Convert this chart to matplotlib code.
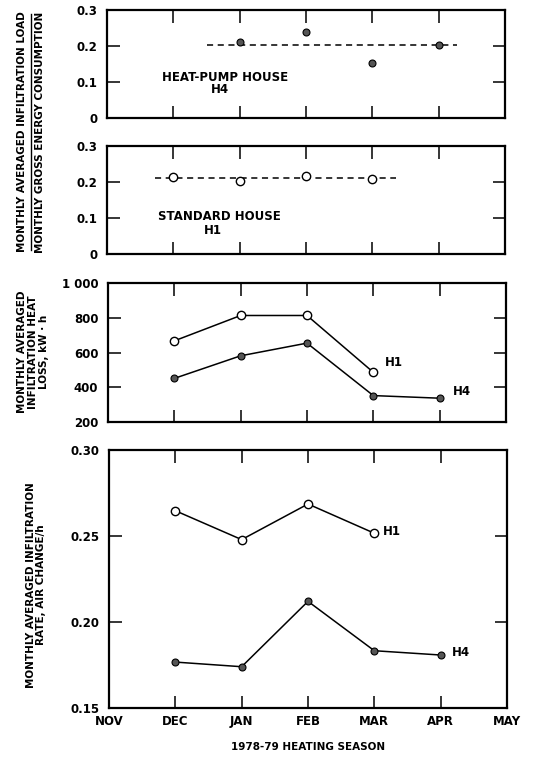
"""Monthly infiltration plots for the H1 / H4 test houses, 1978-79 heating season."""

import matplotlib
matplotlib.use("Agg")
import matplotlib.pyplot as plt
from matplotlib.lines import Line2D

plt.rcParams['font.family'] = ['DejaVu Sans']
plt.rcParams['font.weight'] = 'bold'
plt.rcParams['axes.labelweight'] = 'bold'

# x positions: NOV=0 ... MAY=6
month_labels = ["NOV", "DEC", "JAN", "FEB", "MAR", "APR", "MAY"]
month_pos = [0, 1, 2, 3, 4, 5, 6]

# panel 1: load ratio, heat-pump house H4 (JAN..APR)
ratio_h4_x = [2, 3, 4, 5]
ratio_h4 = [0.211, 0.238, 0.154, 0.203]
ratio_h4_mean = 0.204
ratio_h4_span = [1.5, 5.27]

# panel 2: load ratio, standard house H1 (DEC..MAR)
ratio_h1_x = [1, 2, 3, 4]
ratio_h1 = [0.214, 0.202, 0.216, 0.209]
ratio_h1_mean = 0.210
ratio_h1_span = [0.72, 4.35]

# panel 3: heat loss, kW.h
loss_h1_x = [1, 2, 3, 4]
loss_h1 = [667, 813, 813, 486]
loss_h4_x = [1, 2, 3, 4, 5]
loss_h4 = [451, 581, 654, 352, 337]

# panel 4: infiltration rate, air change/h
rate_h1_x = [1, 2, 3, 4]
rate_h1 = [0.2647, 0.2479, 0.2686, 0.2516]
rate_h4_x = [1, 2, 3, 4, 5]
rate_h4 = [0.1767, 0.1740, 0.2120, 0.1833, 0.1808]

W, H = 536, 757
fig = plt.figure(figsize=(W / 100, H / 100), dpi=100)


def px_axes(left, top, right, bottom):
    return fig.add_axes([left / W, 1 - bottom / H, (right - left) / W, (bottom - top) / H])


def style(ax, yticks, ylabels, ylim, show_months=False):
    ax.set_xlim(0, 6)
    ax.set_ylim(*ylim)
    for s in ax.spines.values():
        s.set_linewidth(1.6)
    ax.set_xticks(month_pos[1:-1])
    ax.set_yticks(yticks)
    ax.set_yticklabels(ylabels, fontsize=8.5)
    ax.tick_params(direction='in', length=9, width=1.1, top=True, right=True, pad=7)
    if show_months:
        ax.set_xticks(month_pos)
        ax.set_xticklabels(month_labels, fontsize=8.5)
        ax.tick_params(axis='x', pad=5)
        # hide the tick marks at the axis ends
        for t in (ax.xaxis.get_major_ticks()[0], ax.xaxis.get_major_ticks()[-1]):
            t.tick1line.set_visible(False)
            t.tick2line.set_visible(False)
    else:
        ax.set_xticklabels([])
    # no tick marks at the y limits
    for t in (ax.yaxis.get_major_ticks()[0], ax.yaxis.get_major_ticks()[-1]):
        t.tick1line.set_visible(False)
        t.tick2line.set_visible(False)


filled = dict(marker='o', markersize=5, markerfacecolor='#555555', markeredgecolor='black',
              markeredgewidth=0.8, color='black')
hollow = dict(marker='o', markersize=6, markerfacecolor='white', markeredgecolor='black',
              markeredgewidth=1.0, color='black')

# panel 1
ax1 = px_axes(107, 10, 505, 118)
ax1.plot(ratio_h4_span, [ratio_h4_mean] * 2, ls=(0, (4, 3)), lw=1.1, color='black')
ax1.plot(ratio_h4_x, ratio_h4, ls='none', **filled)
style(ax1, [0, 0.1, 0.2, 0.3], ["0", "0.1", "0.2", "0.3"], (0, 0.3))
ax1.text(1.78, 0.112, "HEAT-PUMP HOUSE", fontsize=8.5, ha='center', va='center')
ax1.text(1.70, 0.078, "H4", fontsize=8.5, ha='center', va='center')

# panel 2
ax2 = px_axes(107, 146, 505, 254)
ax2.plot(ratio_h1_span, [ratio_h1_mean] * 2, ls=(0, (4, 3)), lw=1.1, color='black')
ax2.plot(ratio_h1_x, ratio_h1, ls='none', **hollow)
style(ax2, [0, 0.1, 0.2, 0.3], ["0", "0.1", "0.2", "0.3"], (0, 0.3))
ax2.text(1.70, 0.103, "STANDARD HOUSE", fontsize=8.5, ha='center', va='center')
ax2.text(1.60, 0.066, "H1", fontsize=8.5, ha='center', va='center')

# panel 3
ax3 = px_axes(108, 283, 506, 422)
ax3.plot(loss_h1_x, loss_h1, lw=1.1, **hollow)
ax3.plot(loss_h4_x, loss_h4, lw=1.1, **filled)
style(ax3, [200, 400, 600, 800, 1000], ["200", "400", "600", "800", "1 000"], (200, 1000))
ax3.text(4.18, 543, "H1", fontsize=8.5, ha='left', va='center')
ax3.text(5.2, 373, "H4", fontsize=8.5, ha='left', va='center')

# panel 4
ax4 = px_axes(109, 450, 507, 708)
ax4.plot(rate_h1_x, rate_h1, lw=1.1, **hollow)
ax4.plot(rate_h4_x, rate_h4, lw=1.1, **filled)
style(ax4, [0.15, 0.20, 0.25, 0.30], ["0.15", "0.20", "0.25", "0.30"], (0.15, 0.30),
      show_months=True)
ax4.text(4.13, 0.2525, "H1", fontsize=8.5, ha='left', va='center')
ax4.text(5.17, 0.182, "H4", fontsize=8.5, ha='left', va='center')
ax4.set_xlabel("1978-79 HEATING SEASON", fontsize=7.5, fontweight='bold', labelpad=10)

# y-axis titles
fig.text(22 / W, 1 - 132 / H, "MONTHLY AVERAGED INFILTRATION LOAD", rotation=90,
         fontsize=7.5, ha='center', va='center')
fig.add_artist(Line2D([31 / W, 31 / W], [1 - 14 / H, 1 - 250 / H], lw=1.0, color='black'))
fig.text(40 / W, 1 - 132 / H, "MONTHLY GROSS ENERGY CONSUMPTION", rotation=90,
         fontsize=7.5, ha='center', va='center')
fig.text(33 / W, 1 - 352 / H, "MONTHLY AVERAGED\nINFILTRATION HEAT\nLOSS, kW \u00b7 h",
         rotation=90, fontsize=7.5, ha='center', va='center', linespacing=1.1)
fig.text(36 / W, 1 - 585 / H, "MONTHLY AVERAGED INFILTRATION\nRATE, AIR CHANGE/h",
         rotation=90, fontsize=7.5, ha='center', va='center', linespacing=1.1)

fig.savefig("out.png", dpi=100)
